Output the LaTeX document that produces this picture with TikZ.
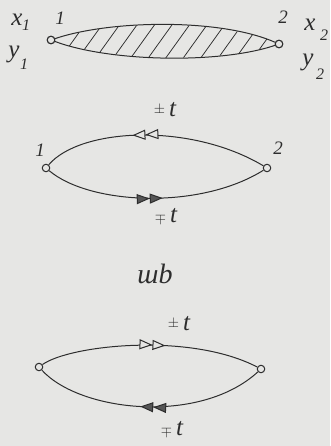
\documentclass[tikz,border=0pt]{standalone}
\usepackage{fontspec}
\setmainfont{Liberation Serif}
\usetikzlibrary{arrows.meta,decorations.markings}
\definecolor{bgc}{RGB}{230,230,228}
\definecolor{ink}{RGB}{45,45,45}
\definecolor{fillink}{RGB}{85,85,85}
\begin{document}
\begin{tikzpicture}[x=1pt,y=-1pt,
  vtx/.style={circle,draw=ink,fill=bgc,line width=1pt,inner sep=0pt,minimum size=7.5pt},
  curveline/.style={draw=ink,line width=1pt},
  hatchline/.style={draw=ink,line width=0.75pt},
  lbl/.style={text=ink,font=\fontsize{25}{25}\selectfont\itshape,inner sep=0pt},
  num/.style={text=ink,font=\fontsize{19}{19}\selectfont\itshape,inner sep=0pt},
  sub/.style={text=ink,font=\fontsize{16}{16}\selectfont\itshape,inner sep=0pt},
  openarr/.style={postaction={decorate},decoration={markings,mark=at position #1 with {\arrow{Triangle[length=13pt,width=10pt,fill=bgc,line width=1pt] Triangle[length=13pt,width=10pt,fill=bgc,line width=1pt]}}}},
  fullarr/.style={postaction={decorate},decoration={markings,mark=at position #1 with {\arrow{Triangle[length=13pt,width=10pt,fill=fillink,line width=1pt] Triangle[length=13pt,width=10pt,fill=fillink,line width=1pt]}}}}
]
\fill[bgc] (0,0) rectangle (330,446);
\useasboundingbox (0,0) rectangle (330,446);

% ---------- diagram 1 ----------
\node[vtx] (a1) at (51,40) {};
\node[vtx] (a2) at (279,44) {};
\begin{scope}
  \clip (a1.center) .. controls (110,20) and (220,18) .. (a2.center)
        .. controls (220,64) and (110,62) .. (a1.center) -- cycle;
  \foreach \b in {55,72.5,...,280} {
    \draw[hatchline] (\b,66) -- (\b+33,20);
  }
\end{scope}
\draw[curveline] (a1) .. controls (110,20) and (220,18) .. (a2);
\draw[curveline] (a1) .. controls (110,62) and (220,64) .. (a2);
\node[vtx] at (a1.center) {};
\node[vtx] at (a2.center) {};
\node[num] (n1a) at (60,18) {1};
\node[num] (n2a) at (283,17) {2};
\node[lbl] (x1) at (17,20) {x};
\node[sub] (x1s) at (26,25) {1};
\node[lbl] (y1) at (14,54) {y};
\node[sub] (y1s) at (24,64) {1};
\node[lbl] (x2) at (310,25) {x};
\node[sub] (x2s) at (324,35) {2};
\node[lbl] (y2) at (308,62) {y};
\node[sub] (y2s) at (320,74) {2};

% ---------- diagram 2 ----------
\node[vtx] (b1) at (46,168) {};
\node[vtx] (b2) at (267,168) {};
\draw[curveline,openarr=0.6] (b2) .. controls (190,122) and (80,128) .. (b1);
\draw[curveline,fullarr=0.53] (b1) .. controls (90,205) and (200,210) .. (b2);
\node[num] (n1b) at (40,150) {1};
\node[num] (n2b) at (278,148) {2};
\node[lbl] (pmb) at (165,110) {\raisebox{3pt}{\fontsize{15}{15}\selectfont$\pm$}\,t};
\node[lbl] (mpb) at (166,216) {{\fontsize{15}{15}\selectfont$\mp$}\,t};

\node[lbl,font=\fontsize{28}{28}\selectfont\itshape] (wb) at (155,274) {шb};

% ---------- diagram 3 ----------
\node[vtx] (c1) at (39,367) {};
\node[vtx] (c2) at (261,369) {};
\draw[curveline,openarr=0.57] (c1) .. controls (70,345) and (190,332) .. (c2);
\draw[curveline,fullarr=0.54] (c2) .. controls (200,425) and (80,412) .. (c1);
\node[lbl] (pmc) at (179,324) {\raisebox{3pt}{\fontsize{15}{15}\selectfont$\pm$}\,t};
\node[lbl] (mpc) at (172,429) {{\fontsize{15}{15}\selectfont$\mp$}\,t};
\end{tikzpicture}
\end{document}
